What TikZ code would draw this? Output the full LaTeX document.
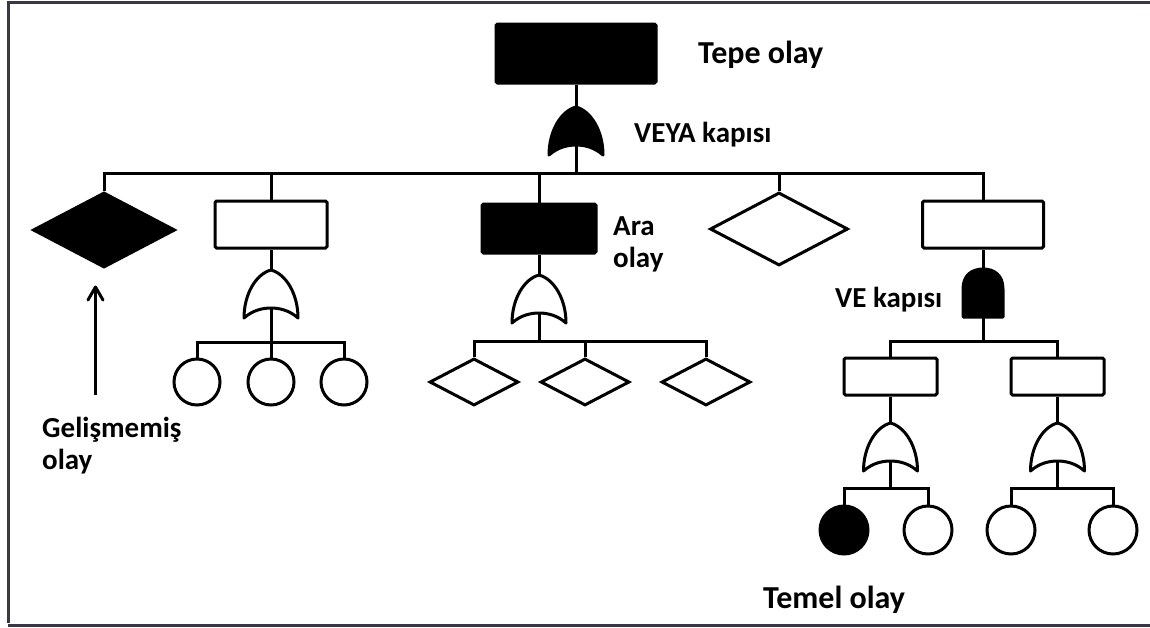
\documentclass[tikz,border=0pt]{standalone}
\usepackage{fontspec}
\setmainfont{Carlito}
\usetikzlibrary{shapes.geometric}
\definecolor{framegray}{rgb}{0.22,0.22,0.28}

\tikzset{
  wire/.style={line width=3pt},
  gate/.style={line width=3pt,line join=round},
  evbox/.style={draw,line width=3pt,rectangle,rounded corners=1.5pt,inner sep=0pt},
  undev/.style={draw,line width=3pt,diamond,inner sep=0pt,line join=miter},
  basic/.style={draw,line width=3pt,circle,inner sep=0pt,minimum size=46pt},
  lbl/.style={font=\bfseries\fontsize{29}{32}\selectfont,inner sep=0pt,align=left},
  biglbl/.style={font=\bfseries\fontsize{32}{36}\selectfont,inner sep=0pt,align=left},
  pics/orgate/.style={code={
    \draw[gate,fill=#1] (0,0) .. controls (15,4) and (27,24) .. (27,48)
      .. controls (18,40) and (8,38) .. (0,38)
      .. controls (-8,38) and (-18,40) .. (-27,48)
      .. controls (-27,24) and (-15,4) .. (0,0) -- cycle;
    \coordinate (-in) at (0,0);
    \coordinate (-out) at (0,38);
  }},
  pics/orgate/.default=white,
  pics/andgate/.style={code={
    \draw[gate,fill=#1] (-20,48) -- (-20,20) .. controls (-20,6) and (-11,0) .. (0,0)
      .. controls (11,0) and (20,6) .. (20,20) -- (20,48) -- cycle;
    \coordinate (-in) at (0,0);
    \coordinate (-out) at (0,48);
  }},
  pics/andgate/.default=black
}

\begin{document}
\begin{tikzpicture}[x=1pt,y=-1pt]
\useasboundingbox (0,0) rectangle (1150,627);

%Frame
\draw[framegray,line width=3pt] (1150,2) -- (8,2) -- (8,623);
\draw[framegray,line width=3pt] (8,625) -- (1150,625);

%Top event and OR gate
\node[evbox,fill=black,minimum width=160pt,minimum height=59pt] (top) at (576,53.5) {};
\node[biglbl,anchor=west] (toplbl) at (698,55) {Tepe olay};
\coordinate (bus0) at (576,173);

%First level events
\node[undev,fill=black,minimum width=142pt,minimum height=75pt] (b1) at (104,230) {};
\node[evbox,minimum width=112pt,minimum height=47pt] (b2) at (271,224.5) {};
\node[evbox,fill=black,minimum width=114pt,minimum height=49pt] (b3) at (539,228.5) {};
\node[undev,minimum width=138pt,minimum height=73pt] (b4) at (779,229) {};
\node[evbox,minimum width=121pt,minimum height=47pt] (b5) at (983,224.5) {};

\draw[wire] (top.south) -- (bus0);
\foreach \b in {b1,b2,b3,b4,b5} \draw[wire] (bus0) -| (\b.north);
\pic (g0) at (576,107) {orgate=black};
\node[lbl,anchor=west] (g0lbl) at (634,135) {VEYA kapısı};

%Undeveloped event label with pointer
\coordinate (arrS) at (95.5,395);
\coordinate (arrE) at (95.5,287);
\draw[wire] (arrS) -- (arrE);
\draw[wire,line join=round,line cap=round] (arrE) ++(-7.5,13) -- (arrE) -- ++(7.5,13);
\node[lbl,anchor=north west] (b1lbl) at (42,417) {Gelişmemiş\\olay};

%Branch 2
\coordinate (bus2) at (271,342);
\foreach \c/\x in {c21/197,c22/271,c23/344}
  \node[basic] (\c) at (\x,382) {};
\draw[wire] (b2.south) -- (bus2);
\foreach \c in {c21,c22,c23} \draw[wire] (bus2) -| (\c.north);
\pic (g2) at (271,270) {orgate};

%Branch 3
\node[lbl,anchor=west] (b3lbl) at (613,244) {Ara\\olay};
\coordinate (bus3) at (539,341);
\foreach \c/\x in {d31/474,d32/585,d33/706}
  \node[undev,minimum width=89pt,minimum height=47pt] (\c) at (\x,382) {};
\draw[wire] (b3.south) -- (bus3);
\foreach \c in {d31,d32,d33} \draw[wire] (bus3) -| (\c.north);
\pic (g3) at (539,275) {orgate};

%Branch 5 with AND gate
\coordinate (bus5) at (983,341);
\node[evbox,minimum width=93pt,minimum height=37pt] (e51) at (890.5,376.5) {};
\node[evbox,minimum width=93pt,minimum height=37pt] (e52) at (1057.5,376.5) {};
\draw[wire] (b5.south) -- (bus5);
\foreach \c in {e51,e52} \draw[wire] (bus5) -| (\c.north);
\pic (g5) at (983,269) {andgate};
\node[lbl,anchor=west] (g5lbl) at (835,300) {VE kapısı};

%Basic events under branch 5
\coordinate (bus51) at (890.5,488);
\coordinate (bus52) at (1057.5,488);
\node[basic,fill=black,minimum size=48pt] (c511) at (844,530) {};
\node[basic,minimum size=48pt] (c512) at (928,530) {};
\node[basic,minimum size=48pt] (c521) at (1011,530) {};
\node[basic,minimum size=48pt] (c522) at (1113,530) {};
\draw[wire] (e51.south) -- (bus51);
\draw[wire] (e52.south) -- (bus52);
\foreach \c in {c511,c512} \draw[wire] (bus51) -| (\c.north);
\foreach \c in {c521,c522} \draw[wire] (bus52) -| (\c.north);
\pic (g51) at (890.5,423) {orgate};
\pic (g52) at (1057.5,423) {orgate};
\node[biglbl,anchor=west] (c5lbl) at (763,600) {Temel olay};

\end{tikzpicture}
\end{document}
